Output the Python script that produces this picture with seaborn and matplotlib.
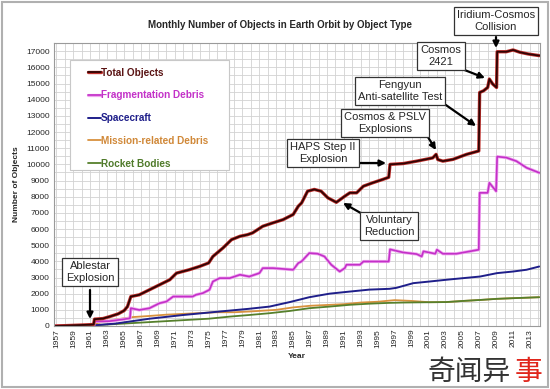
import matplotlib
matplotlib.use('Agg')
import matplotlib.pyplot as plt
import matplotlib.patheffects as pe
from matplotlib.patches import Rectangle
import seaborn as sns

# Values (year, number of objects)
total_years = [1956.7, 1958, 1959, 1960, 1961.0, 1961.4, 1961.5, 1962.5, 1963.3, 1964.3, 1965.0, 1965.4,
               1965.8, 1966.8, 1968.0, 1969.2, 1970.4, 1971.2, 1972.7, 1973.9, 1975.0, 1975.5, 1976.7,
               1977.7, 1978.7, 1979.6, 1980.2, 1981.4, 1982.6, 1983.8, 1985.0, 1985.6, 1986.0, 1986.7,
               1987.5, 1988.3, 1989.1, 1990.1, 1991.1, 1991.7, 1992.5, 1993.3, 1994.4, 1995.6, 1996.3,
               1996.45, 1998.0, 1999.6, 2001.5, 2001.9, 2002.1, 2002.7, 2003.9, 2005.5, 2006.95, 2007.05,
               2007.5, 2008.0, 2008.2, 2008.6, 2009.05, 2009.12, 2010.2, 2011.0, 2011.8, 2012.8, 2014.1]
total_objects = [0, 20, 40, 60, 80, 100, 420, 460, 580, 750, 950, 1200,
                 1820, 1930, 2240, 2550, 2860, 3270, 3480, 3680, 3900, 4300, 4830,
                 5340, 5550, 5650, 5760, 6170, 6380, 6580, 6900, 7410, 7620, 8340,
                 8450, 8340, 7930, 7650, 8030, 8240, 8240, 8650, 8860, 9070, 9200,
                 10000, 10050, 10200, 10400, 10620, 10300, 10200, 10310, 10620, 10830, 14450,
                 14550, 14760, 15280, 14970, 14760, 16970, 16970, 17080, 16940, 16830, 16730]

frag_years = [1956.7, 1961.0, 1961.4, 1961.5, 1963.3, 1965.0, 1965.7, 1965.8, 1966.8, 1968.0, 1969.2,
              1970.0, 1970.8, 1973.1, 1973.5, 1974.3, 1975.1, 1975.5, 1976.3, 1977.5, 1978.7, 1979.8,
              1981.0, 1981.4, 1982.6, 1985.0, 1985.6, 1986.0, 1986.9, 1987.9, 1988.7, 1989.5, 1990.5,
              1991.1, 1991.3, 1992.9, 1993.3, 1996.3, 1996.45, 1998.0, 1999.6, 2000.2, 2000.4, 2001.8,
              2002.0, 2002.7, 2004.3, 2005.9, 2006.95, 2007.05, 2008.0, 2008.2, 2009.0, 2009.12, 2010.2,
              2011.4, 2012.6, 2014.1]
frag_debris = [0, 0, 0, 280, 300, 420, 480, 1100, 990, 1100, 1410,
               1510, 1820, 1820, 1930, 2030, 2240, 2750, 2960, 2960, 3170, 3060,
               3270, 3580, 3580, 3480, 3890, 4000, 4510, 4470, 4300, 3790, 3370,
               3580, 3790, 3790, 3990, 3990, 4740, 4550, 4450, 4300, 4620, 4470,
               4720, 4470, 4470, 4620, 4720, 8240, 8240, 8860, 8340, 10480, 10420,
               10200, 9790, 9480]

sc_years = [1956.7, 1961, 1964, 1968, 1972, 1976, 1979.7, 1982.2, 1984.6, 1986.9, 1989.3, 1991.7,
            1994.0, 1996.4, 1997.2, 1999.2, 2001.1, 2003.1, 2005.1, 2007.1, 2009.1, 2011.0, 2012.6, 2014.1]
spacecraft = [0, 20, 150, 450, 680, 880, 1060, 1200, 1480, 1780, 2000, 2130,
              2250, 2300, 2360, 2650, 2750, 2860, 2960, 3060, 3270, 3370, 3480, 3680]

mission_years = [1956.7, 1961, 1962, 1964, 1966, 1968, 1970, 1972, 1974, 1976, 1978, 1980, 1983, 1985,
                 1987, 1989, 1991, 1993, 1995, 1997, 1999, 2001.1, 2003.1, 2005.1, 2007.1, 2009.1, 2011, 2014.1]
mission_debris = [0, 40, 200, 400, 550, 620, 700, 750, 800, 850, 850, 900, 1000, 1150,
                  1250, 1300, 1350, 1450, 1500, 1600, 1550, 1470, 1480, 1550, 1610, 1680, 1720, 1780]

rocket_years = [1956.7, 1961, 1965, 1970, 1975, 1977.5, 1979.8, 1982.2, 1984.6, 1986.9, 1989.3, 1991.7,
                1994.0, 1996.4, 1998, 2001.1, 2003.1, 2005.1, 2007.1, 2009.1, 2011, 2014.1]
rocket_bodies = [0, 30, 150, 300, 450, 580, 680, 790, 930, 1100, 1200, 1310,
                 1380, 1430, 1450, 1470, 1480, 1550, 1610, 1680, 1720, 1780]

year_ticks = list(range(1957, 2014, 2))

sns.set_style('white')
plt.rcParams['font.family'] = ['Liberation Sans', 'Noto Sans CJK SC', 'DejaVu Sans']

fig, ax = plt.subplots(figsize=(5.5, 3.89), dpi=100)
fig.subplots_adjust(left=0.098, right=0.982, top=0.889, bottom=0.162)

sns.lineplot(x=mission_years, y=mission_debris, color='#d8913e', lw=1.3, ax=ax, label='Mission-related Debris')
sns.lineplot(x=rocket_years, y=rocket_bodies, color='#56802c', lw=1.3, ax=ax, label='Rocket Bodies')
sns.lineplot(x=sc_years, y=spacecraft, color='#1f1f8a', lw=1.4, ax=ax, label='Spacecraft')
sns.lineplot(x=frag_years, y=frag_debris, color='#c331c8', lw=1.2, ax=ax, label='Fragmentation Debris',
             path_effects=[pe.Stroke(linewidth=2.3, foreground='#f0a8f0'), pe.Normal()])
sns.lineplot(x=total_years, y=total_objects, color='#300404', lw=1.3, ax=ax, label='Total Objects',
             path_effects=[pe.Stroke(linewidth=2.4, foreground='#c0302c'), pe.Normal()])

ax.set_xlim(1956.7, 2014.2)
ax.set_ylim(0, 17500)
ax.set_xticks(year_ticks)
ax.set_xticklabels([str(y) for y in year_ticks], rotation=90, fontsize=6)
ax.set_xticks(range(1957, 2015), minor=True)
ax.set_yticks(range(0, 17001, 1000))
ax.set_yticks(range(0, 17501, 500), minor=True)
ax.tick_params(axis='y', labelsize=6, length=0, pad=3)
ax.tick_params(axis='x', length=0, pad=2)
ax.grid(True, which='both', color='#d2d2d2', lw=0.6)
for s in ax.spines.values():
    s.set_color('#9a9a9a')
    s.set_linewidth(0.8)

fig.text(280 / 550, 1 - 25 / 389, 'Monthly Number of Objects in Earth Orbit by Object Type',
         fontsize=7.0, fontweight='bold', ha='center', va='center')
ax.set_xlabel('Year', fontsize=6, fontweight='bold', labelpad=4)
ax.set_ylabel('Number of Objects', fontsize=6, fontweight='bold', labelpad=4)

# legend frame drawn separately, legend text coloured like the lines
ax.add_patch(Rectangle((0.033, 0.551), 0.327, 0.389, transform=ax.transAxes, fc='white',
                       ec='#c8c8c8', lw=0.8, zorder=4))
handles, labels = ax.get_legend_handles_labels()
order = ['Total Objects', 'Fragmentation Debris', 'Spacecraft', 'Mission-related Debris', 'Rocket Bodies']
text_colors = ['#5a1414', '#c331c8', '#1f1f8a', '#d08838', '#4f7a2a']
hmap = dict(zip(labels, handles))
leg = ax.legend([hmap[k] for k in order], order, loc='upper left', bbox_to_anchor=(0.07, 0.913),
                prop={'weight': 'bold', 'size': 7.2}, labelspacing=1.27,
                handlelength=1.3, handletextpad=0.0, borderpad=0, borderaxespad=0,
                frameon=False, labelcolor=text_colors)
leg.set_zorder(5)


def fxy(x, y):
    return (x / 550, 1 - y / 389)


box = dict(boxstyle='square,pad=0.3', fc='white', ec='#333333', lw=0.9)
notes = [('Ablestar\nExplosion', 90, 272),
         ('HAPS Step II\nExplosion', 323, 153),
         ('Voluntary\nReduction', 389, 226),
         ('Cosmos & PSLV\nExplosions', 385, 123),
         ('Fengyun\nAnti-satellite Test', 400, 91),
         ('Cosmos\n2421', 441, 56),
         ('Iridium-Cosmos\nCollision', 496, 21)]
for txt, x, y in notes:
    fig.text(*fxy(x, y), txt, ha='center', va='center', fontsize=8, linespacing=1.15,
             bbox=box, zorder=5)

arrows = [((90, 290), (90, 319)),
          ((357, 163), (386, 163)),
          ((366, 216), (343, 203)),
          ((426, 134), (436, 150)),
          ((443, 103), (476, 126)),
          ((462, 69), (485, 78)),
          ((496, 37), (496, 48))]
for tail, head in arrows:
    ax.annotate('', xy=fxy(*head), xytext=fxy(*tail), xycoords='figure fraction',
                textcoords='figure fraction',
                arrowprops=dict(arrowstyle='-|>', color='black', lw=1.6, mutation_scale=9,
                                shrinkA=0, shrinkB=0), zorder=6)

# watermark
fig.text(*fxy(428, 372), '奇闻异', fontsize=20, color='#333333', ha='left', va='center',
         family=['Noto Sans CJK SC'])
fig.text(*fxy(515, 372), '事', fontsize=20, color='#e0261c', ha='left', va='center',
         family=['Noto Sans CJK SC'])

fig.patches.append(Rectangle((0.004, 0.006), 0.992, 0.988, transform=fig.transFigure,
                             fill=False, ec='#b0b0b0', lw=1.5))

fig.savefig('out.png', dpi=100)
